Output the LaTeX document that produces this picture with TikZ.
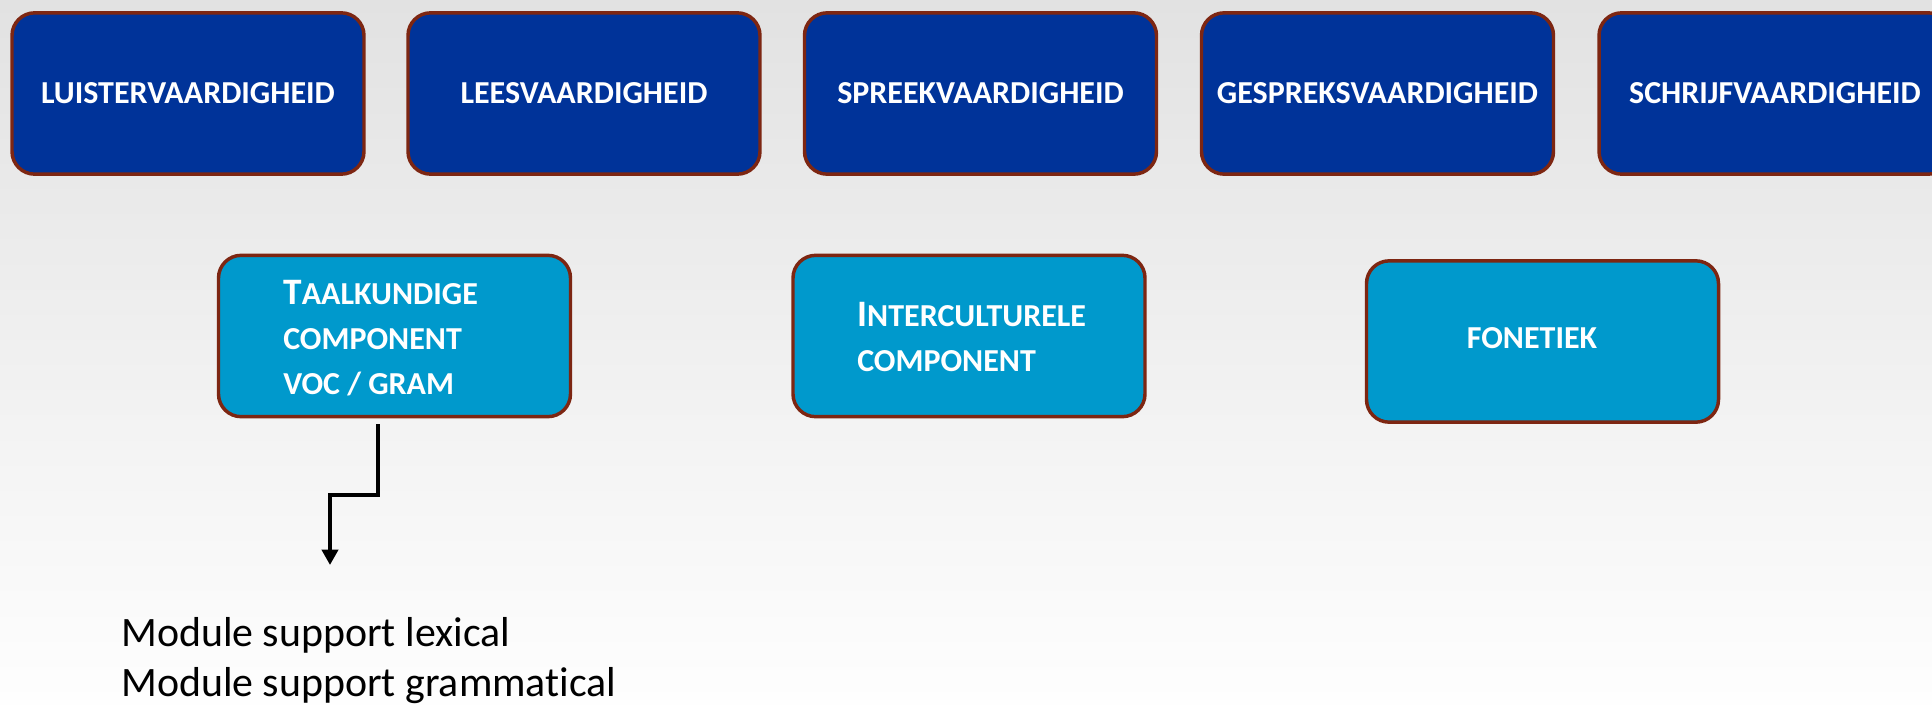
\documentclass[tikz,border=0pt]{standalone}
\usepackage{fontspec}
\setmainfont{Carlito}[RawFeature=-liga]
\usetikzlibrary{arrows.meta}
\definecolor{topblue}{RGB}{0,51,153}
\definecolor{midblue}{RGB}{0,153,204}
\definecolor{rim}{RGB}{125,38,18}
\definecolor{bgtop}{RGB}{226,226,226}
\definecolor{bgbot}{RGB}{254,254,254}
\newcommand\capsfont{\fontsize{24pt}{33.75pt}\selectfont\bfseries}
\newcommand\scbigletter[1]{{\fontsize{28pt}{33.75pt}\selectfont #1}}
\begin{document}
\begin{tikzpicture}[x=0.75pt,y=-0.75pt,
  skillbox/.style={draw=rim, line width=2.6pt, fill=topblue, rounded corners=17pt,
    minimum width=264pt, minimum height=121pt, text=white, font=\capsfont, inner sep=0pt},
  compbox/.style={skillbox, fill=midblue},
  comptext/.style={text=white, font=\capsfont, align=left, anchor=north west, inner sep=0pt},
  plaintext/.style={text=black, font=\fontsize{31.4pt}{37.8pt}\selectfont, align=left, anchor=north west, inner sep=0pt},
  conn/.style={draw=black, line width=3pt, -{Triangle[length=11.5pt,width=12pt]}}]
\useasboundingbox (0,0) rectangle (1932,704);
\clip (0,0) rectangle (1932,704);
\shade[top color=bgtop, bottom color=bgbot] (0,0) rectangle (1932,704);

% top row
\node[skillbox] (luister) at (188,93.5) {LUISTERVAARDIGHEID};
\node[skillbox] (lees) at (584,93.5) {LEESVAARDIGHEID};
\node[skillbox] (spreek) at (980.5,93.5) {SPREEKVAARDIGHEID};
\node[skillbox] (gesprek) at (1377.5,93.5) {GESPREKSVAARDIGHEID};
\node[skillbox] (schrijf) at (1775,93.5) {SCHRIJFVAARDIGHEID};

% components
\node[compbox] (tk) at (394.5,336) {};
\node[comptext] (tktext) at (283,280) {\scbigletter{T}AALKUNDIGE\\COMPONENT\\VOC / GRAM};
\node[compbox] (ic) at (969,336) {};
\node[comptext] (ictext) at (857,302) {\scbigletter{I}NTERCULTURELE\\COMPONENT};
\node[compbox] (fon) at (1542.5,341.5) {};
\node[text=white, font=\capsfont, inner sep=0pt] (fontext) at (1532,338) {FONETIEK};

% connector
\coordinate (tip) at (330,565);
\draw[conn] ([xshift=-12.4pt,yshift=-4.5pt]tk.south) -- ++(0,71) -| (tip);

\node[plaintext] (mod) at (121,617) {Module support lexical\\Module support grammatical};
\end{tikzpicture}
\end{document}
